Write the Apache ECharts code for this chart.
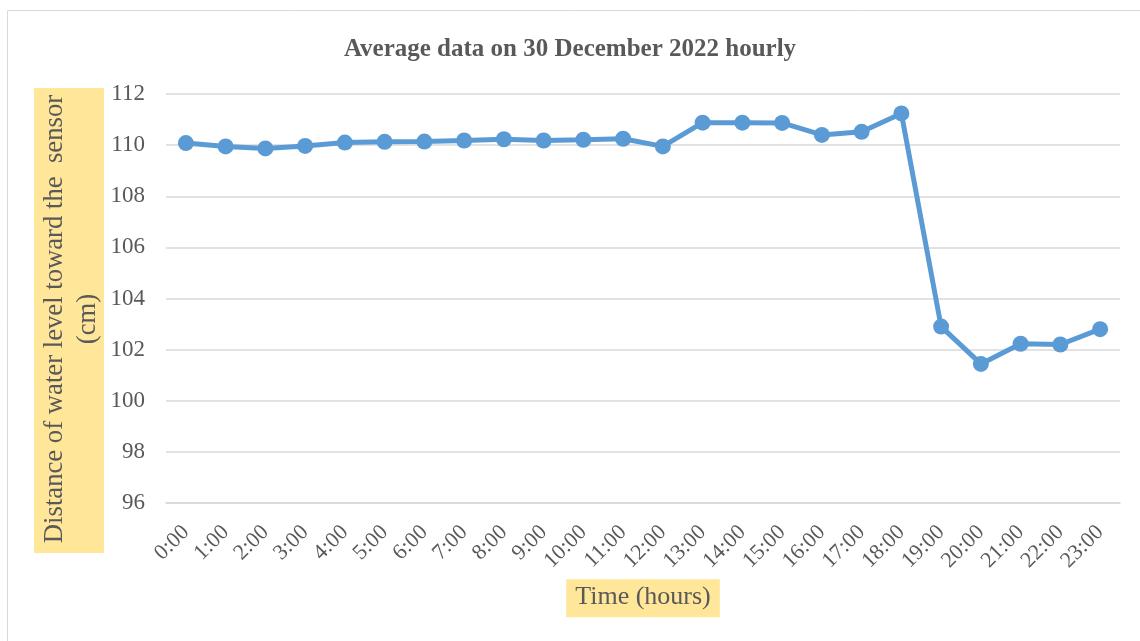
<!DOCTYPE html>
<html>
<head>
<meta charset="utf-8">
<title>Average data on 30 December 2022 hourly</title>
<script src="https://cdn.jsdelivr.net/npm/echarts@6/dist/echarts.min.js"></script>
<style>
  html, body { margin: 0; padding: 0; background: #fff; }
  #waterChart { width: 1140px; height: 641px; }
</style>
</head>
<body>
<div id="waterChart"></div>
<script>
// hourly averages
const hours = ['0:00', '1:00', '2:00', '3:00', '4:00', '5:00', '6:00', '7:00', '8:00', '9:00', '10:00', '11:00',
  '12:00', '13:00', '14:00', '15:00', '16:00', '17:00', '18:00', '19:00', '20:00', '21:00', '22:00', '23:00'];
const distance = [110.08, 109.95, 109.87, 109.97, 110.10, 110.13, 110.14, 110.18, 110.23, 110.18, 110.21, 110.25,
  109.95, 110.88, 110.88, 110.87, 110.40, 110.52, 111.24, 102.90, 101.44, 102.23, 102.20, 102.80];
const yTicks = { min: 96, max: 112, step: 2 };

const font = 'Liberation Serif, Times New Roman, serif';
const grey = '#595959';

let myChart = echarts.init(document.getElementById('waterChart'));

let option = {
  backgroundColor: '#fff',
  animation: false,
  title: {
    text: 'Average data on 30 December 2022 hourly',
    left: 'center',
    top: 32,
    textStyle: { fontFamily: font, fontSize: 25, fontWeight: 'bold', color: grey }
  },
  grid: { left: 166, right: 20, top: 94, bottom: 138, containLabel: false },
  xAxis: {
    type: 'category',
    data: hours,
    boundaryGap: true,
    axisLine: { lineStyle: { color: '#d9d9d9', width: 1.5 } },
    axisTick: { show: false },
    axisLabel: { interval: 0, rotate: 45, margin: 26, fontFamily: font, fontSize: 22, color: grey },
    name: 'Time (hours)',
    nameLocation: 'middle',
    nameGap: 76,
    nameTextStyle: {
      fontFamily: font, fontSize: 26, color: grey,
      backgroundColor: '#FFE699', padding: [5, 9, 7, 9], verticalAlign: 'top'
    }
  },
  yAxis: {
    type: 'value',
    min: yTicks.min,
    max: yTicks.max,
    interval: yTicks.step,
    axisLine: { show: false },
    axisTick: { show: false },
    splitLine: { lineStyle: { color: '#d9d9d9', width: 1.5 } },
    axisLabel: { margin: 21, fontFamily: font, fontSize: 23, color: grey }
  },
  graphic: [
    {
      type: 'rect',
      silent: true,
      shape: { x: 7.5, y: 10.5, width: 1300, height: 800 },
      style: { fill: 'none', stroke: '#d9d9d9', lineWidth: 1 }
    },
    {
      type: 'rect',
      silent: true,
      shape: { x: 34, y: 88, width: 70, height: 465 },
      style: { fill: '#FFE699' }
    },
    {
      type: 'text',
      silent: true,
      x: 71,
      y: 319,
      rotation: Math.PI / 2,
      style: {
        text: 'Distance of water level toward the  sensor\n(cm)',
        font: '26.7px ' + font,
        fill: grey,
        lineHeight: 33,
        align: 'center',
        verticalAlign: 'middle'
      }
    }
  ],
  series: [
    {
      name: 'Distance',
      type: 'line',
      data: distance,
      symbol: 'circle',
      symbolSize: 16,
      lineStyle: { color: '#5B9BD5', width: 5 },
      itemStyle: { color: '#5B9BD5' }
    }
  ]
};

myChart.setOption(option);
</script>
</body>
</html>
